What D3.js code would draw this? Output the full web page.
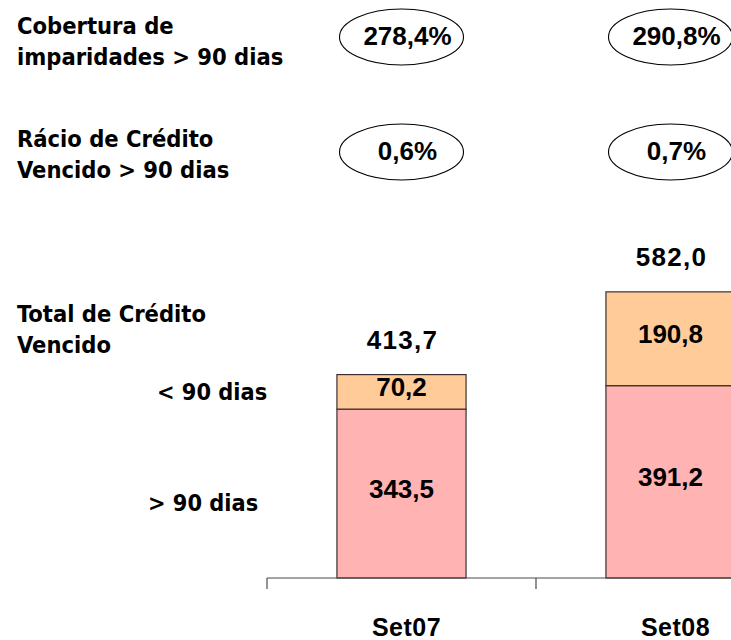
<!DOCTYPE html>
<html lang="pt">
<head>
<meta charset="utf-8">
<title>Crédito Vencido</title>
<script src="https://cdn.jsdelivr.net/npm/d3@7"></script>
<style>
  html, body { margin: 0; padding: 0; background: #fff; }
  svg { display: block; }
  .cap { font-family: 'DejaVu Sans Condensed', 'DejaVu Sans', Verdana, sans-serif; font-stretch: condensed; font-weight: bold; }
</style>
</head>
<body>
<svg id="chart" width="731" height="640"></svg>
<script>
// Periods shown along the axis
const categories = ["Set07", "Set08"];
// Overdue credit split by age bucket (M€)
const over90 = [343.5, 391.2];
const under90 = [70.2, 190.8];
const totals = [413.7, 582.0];
// Ratios shown in the ovals above each period (%)
const coverage = [278.4, 290.8];
const overdueRatio = [0.6, 0.7];
// Row captions on the left
const coverageCaption = ["Cobertura de", "imparidades > 90 dias"];
const ratioCaption = ["Rácio de Crédito", "Vencido > 90 dias"];
const totalCaption = ["Total de Crédito", "Vencido"];
const seriesNames = ["> 90 dias", "< 90 dias"];

const pt = d3.formatLocale({ decimal: ",", thousands: ".", grouping: [3], currency: ["", "€"] });
const f1 = pt.format(".1f");

const svg = d3.select("#chart");
const W = 731, H = 640;
svg.append("rect").attr("width", W).attr("height", H).attr("fill", "#fff");

const numFont = "'Liberation Sans', Arial, sans-serif";

// Scales
const x = d3.scaleBand().domain(categories).range([267, 805]).padding(0);
const y = d3.scaleLinear().domain([0, 600]).range([578, 283]);
const barW = x.bandwidth() * 0.48;
const cx = c => x(c) + x.bandwidth() / 2;

const stacked = categories.map((c, i) => ({
  cat: c,
  segs: [
    { name: seriesNames[0], y0: 0, y1: over90[i], v: over90[i], fill: "#FFB3B3" },
    { name: seriesNames[1], y0: over90[i], y1: over90[i] + under90[i], v: under90[i], fill: "#FFCC99" }
  ],
  total: totals[i]
}));

// Left captions
function caption(lines, baseline) {
  const t = svg.append("text")
    .attr("class", "cap")
    .attr("x", 17).attr("y", baseline)
    .attr("font-size", 23.5).attr("fill", "#000");
  lines.forEach((l, i) => t.append("tspan").attr("x", 17).attr("dy", i === 0 ? 0 : 31).text(l));
}
caption(coverageCaption, 34);
caption(ratioCaption, 147);
caption(totalCaption, 322);

// Oval badges
function badges(values, cy) {
  const g = svg.append("g");
  categories.forEach((c, i) => {
    g.append("ellipse")
      .attr("cx", cx(c)).attr("cy", cy)
      .attr("rx", 62).attr("ry", 28)
      .attr("fill", "none").attr("stroke", "#000").attr("stroke-width", 1.1);
    g.append("text")
      .attr("x", cx(c) + 6).attr("y", cy + 8)
      .attr("text-anchor", "middle")
      .attr("font-family", numFont).attr("font-weight", "bold")
      .attr("font-size", 26).attr("fill", "#000")
      .text(f1(values[i]) + "%");
  });
}
badges(coverage, 37);
badges(overdueRatio, 152);

// Stacked bars
const barG = svg.append("g");
stacked.forEach(d => {
  const bx = cx(d.cat) - barW / 2;
  d.segs.forEach(s => {
    barG.append("rect")
      .attr("x", bx).attr("y", y(s.y1))
      .attr("width", barW).attr("height", y(s.y0) - y(s.y1))
      .attr("fill", s.fill)
      .attr("stroke", "#3a3030").attr("stroke-width", 1.2);
    barG.append("text")
      .attr("x", cx(d.cat)).attr("y", (y(s.y0) + y(s.y1)) / 2 + 4)
      .attr("text-anchor", "middle")
      .attr("font-family", numFont).attr("font-weight", "bold")
      .attr("font-size", 26).attr("fill", "#000")
      .text(f1(s.v));
  });
  barG.append("text")
    .attr("x", cx(d.cat) + 1).attr("y", y(d.total) - 26)
    .attr("text-anchor", "middle")
    .attr("font-family", numFont).attr("font-weight", "bold")
    .attr("font-size", 26).attr("letter-spacing", 1.3).attr("fill", "#000")
    .text(f1(d.total));
});

// Series captions beside the first bar
const first = stacked[0];
svg.append("text")
  .attr("class", "cap")
  .attr("x", 157).attr("y", (y(first.segs[1].y0) + y(first.segs[1].y1)) / 2 + 8)
  .attr("font-size", 23.3).attr("fill", "#000")
  .text(seriesNames[1]);
svg.append("text")
  .attr("class", "cap")
  .attr("x", 148).attr("y", (y(first.segs[0].y0) + y(first.segs[0].y1)) / 2 + 17)
  .attr("font-size", 23.3).attr("fill", "#000")
  .text(seriesNames[0]);

// Category axis: baseline with boundary ticks between periods
const axisG = svg.append("g");
const [r0, r1] = x.range();
axisG.append("line")
  .attr("x1", r0).attr("x2", r1).attr("y1", y(0)).attr("y2", y(0))
  .attr("stroke", "#4a4a4a").attr("stroke-width", 1.2);
categories.map(c => x(c)).concat([r1]).forEach(tx => {
  axisG.append("line")
    .attr("x1", tx).attr("x2", tx).attr("y1", y(0)).attr("y2", y(0) + 11)
    .attr("stroke", "#4a4a4a").attr("stroke-width", 1.2);
});
categories.forEach(c => {
  axisG.append("text")
    .attr("x", cx(c) + 5).attr("y", 636)
    .attr("text-anchor", "middle")
    .attr("font-family", numFont).attr("font-weight", "bold")
    .attr("font-size", 25).attr("letter-spacing", 0.5).attr("fill", "#000")
    .text(c);
});
</script>
</body>
</html>
